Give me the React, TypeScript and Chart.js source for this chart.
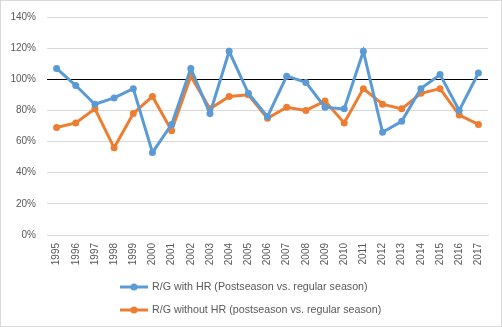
import React, { useEffect, useRef } from "react";
import { Chart, registerables } from "chart.js";

Chart.register(...registerables);

const years = ["1995","1996","1997","1998","1999","2000","2001","2002","2003","2004","2005","2006","2007","2008","2009","2010","2011","2012","2013","2014","2015","2016","2017"];
const withHR = [107,96,84,88,94,53,71,107,78,118,91,76,102,98,82,81,118,66,73,94,103,80,104];
const withoutHR = [69,72,81,56,78,89,67,102,81,89,90,75,82,80,86,72,94,84,81,91,94,77,71];
const seriesLabels = ["R/G with HR (Postseason vs. regular season)", "R/G without HR (postseason vs. regular season)"];
const seriesColors = ["#5B9BD5", "#ED7D31"];
const yTicks = { min: 0, max: 140, step: 20 };

const FONT = '"Liberation Sans", Arial, sans-serif';

const legendAndBorder = {
  id: "excelLegend",
  afterDraw(chart: any) {
    const ctx = chart.ctx;
    ctx.save();
    ctx.strokeStyle = "#d9d9d9";
    ctx.lineWidth = 1;
    ctx.strokeRect(0.5, 0.5, chart.width - 1, chart.height - 1);
    ctx.font = "10.7px " + FONT;
    ctx.textBaseline = "middle";
    const lineLen = 28;
    const gap = 4;
    const ds = chart.data.datasets;
    let maxW = 0;
    ds.forEach((d: any) => { maxW = Math.max(maxW, lineLen + gap + ctx.measureText(d.label).width); });
    const x0 = Math.round((chart.width - maxW) / 2);
    const rowsY = [287, 310];
    ds.forEach((d: any, i: number) => {
      const y = rowsY[i];
      ctx.strokeStyle = d.borderColor;
      ctx.lineWidth = 3;
      ctx.beginPath();
      ctx.moveTo(x0, y);
      ctx.lineTo(x0 + lineLen, y);
      ctx.stroke();
      ctx.fillStyle = d.borderColor;
      ctx.beginPath();
      ctx.arc(x0 + lineLen / 2, y, 3.5, 0, Math.PI * 2);
      ctx.fill();
      ctx.fillStyle = "#595959";
      ctx.textAlign = "left";
      ctx.fillText(d.label, x0 + lineLen + gap, y);
    });
    ctx.restore();
  },
};

export default function App() {
  const ref = useRef<HTMLCanvasElement>(null);
  useEffect(() => {
    document.body.style.margin = "0";
    const c = ref.current!;
    const chart = new Chart(c, {
      type: "line",
      data: {
        labels: years,
        datasets: [withHR, withoutHR].map((vals, i) => ({
          label: seriesLabels[i],
          data: vals,
          borderColor: seriesColors[i],
          backgroundColor: seriesColors[i],
          borderWidth: 3,
          pointRadius: 3.5,
          pointBorderWidth: 0,
          pointBackgroundColor: seriesColors[i],
          tension: 0,
          fill: false,
        })),
      },
      options: {
        responsive: false,
        animation: false,
        layout: { autoPadding: false, padding: { top: 14, right: 14, bottom: 52, left: 0 } },
        plugins: { legend: { display: false }, tooltip: { enabled: false } },
        scales: {
          x: {
            offset: true,
            grid: { display: false, drawTicks: false },
            border: { display: true, color: "#d9d9d9" },
            ticks: {
              minRotation: 90,
              maxRotation: 90,
              autoSkip: false,
              padding: 8,
              color: "#595959",
              font: { family: FONT, size: 10 },
            },
            afterFit: (s: any) => { s.height = 40; },
          },
          y: {
            min: yTicks.min,
            max: yTicks.max,
            grid: {
              drawTicks: false,
              color: (ctx: any) => (ctx.tick && ctx.tick.value === 100 ? "#000000" : "#d9d9d9"),
            },
            border: { display: false },
            ticks: {
              stepSize: yTicks.step,
              padding: 11,
              color: "#595959",
              font: { family: FONT, size: 10 },
              callback: (v: any) => v + "%",
            },
            afterFit: (s: any) => { s.width = 47; },
          },
        },
      },
      plugins: [legendAndBorder],
    });
    return () => chart.destroy();
  }, []);
  return (
    <canvas
      ref={ref}
      width={502}
      height={327}
      style={{ position: "absolute", left: 0, top: 0, display: "block" }}
    />
  );
}
